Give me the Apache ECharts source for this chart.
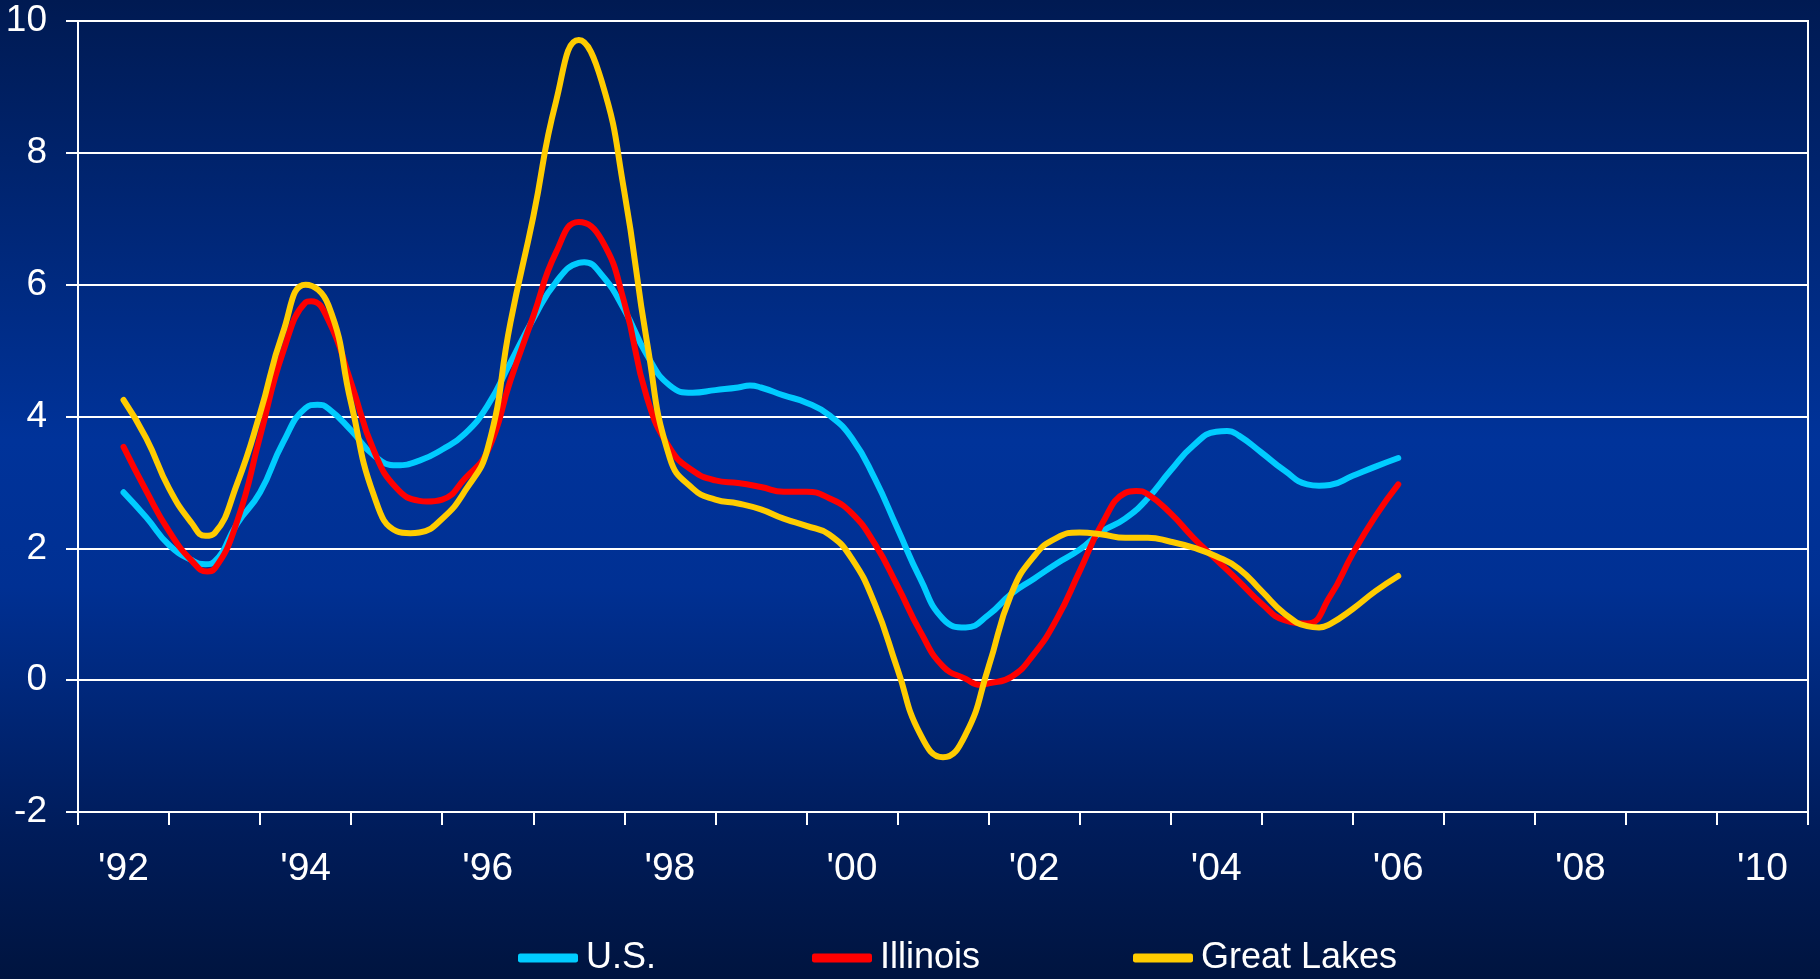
<!DOCTYPE html>
<html>
<head>
<meta charset="utf-8">
<script src="https://cdn.jsdelivr.net/npm/echarts@6.0.0/dist/echarts.min.js"></script>
<style>
  html, body { margin: 0; padding: 0; overflow: hidden; }
  #chart { width: 1820px; height: 979px; }
</style>
</head>
<body>
<div id="chart"></div>
<script>
// category labels, one per year (band), label shown every other year
const yearLabels = ["'92", "'93", "'94", "'95", "'96", "'97", "'98", "'99", "'00",
  "'01", "'02", "'03", "'04", "'05", "'06", "'07", "'08", "'09", "'10"];

// quarterly readings, 1992 Q1 .. 2006 Q1
const firstYear = 1992;
const usValues = [
  2.85, 2.47, 2.05, 1.82, 1.80, 2.38, 2.85, 3.60, 4.13, 4.12, 3.79, 3.41,
  3.26, 3.33, 3.50, 3.74, 4.17, 4.82, 5.48, 6.04, 6.33, 6.15, 5.62, 4.93,
  4.47, 4.36, 4.40, 4.44, 4.44, 4.32, 4.21, 4.02, 3.67, 3.06, 2.30, 1.54,
  0.93, 0.80, 0.99, 1.31, 1.54, 1.77, 1.98, 2.26, 2.45, 2.76, 3.18, 3.56,
  3.77, 3.71, 3.45, 3.18, 2.97, 2.96, 3.10, 3.24, 3.37
];
const illinoisValues = [
  3.54, 2.87, 2.26, 1.81, 1.69, 2.42, 3.70, 4.97, 5.73, 5.46, 4.51, 3.48,
  2.91, 2.72, 2.74, 3.06, 3.48, 4.55, 5.52, 6.49, 6.95, 6.68, 5.73, 4.28,
  3.52, 3.18, 3.03, 2.99, 2.93, 2.86, 2.86, 2.76, 2.53, 2.07, 1.43, 0.74,
  0.21, 0.02, -0.05, 0.05, 0.40, 0.93, 1.65, 2.38, 2.84, 2.82, 2.53, 2.16,
  1.83, 1.50, 1.16, 0.91, 0.86, 1.27, 1.92, 2.49, 2.97
];
const greatLakesValues = [
  4.25, 3.67, 2.91, 2.38, 2.23, 2.99, 4.05, 5.27, 6.00, 5.69, 4.20, 2.80,
  2.26, 2.24, 2.45, 2.87, 3.52, 5.43, 7.03, 8.78, 9.71, 9.09, 7.41, 5.12,
  3.37, 2.91, 2.74, 2.68, 2.59, 2.45, 2.34, 2.21, 1.84, 1.16, 0.17, -0.82,
  -1.17, -0.82, 0.20, 1.31, 1.88, 2.16, 2.24, 2.21, 2.16, 2.16, 2.10, 2.01,
  1.88, 1.69, 1.35, 1.01, 0.82, 0.85, 1.08, 1.35, 1.58
];

// turning points read between quarters: [year, value]
const usTurns = [[1992.9, 1.76], [1994.13, 4.18], [1997.06, 6.34],
  [1998.88, 4.47], [2004.12, 3.78], [2005.13, 2.95]];
const illinoisTurns = [[1992.92, 1.65], [1994.06, 5.75], [1995.33, 2.71],
  [2001.41, -0.07], [2003.12, 2.87]];
const greatLakesTurns = [[1992.9, 2.19], [1995.15, 2.23], [2005.13, 0.80]];

const toPoints = (vals, turns) => vals
  .map((v, i) => [firstYear + i / 4, v])
  .concat(turns)
  .sort((a, b) => a[0] - b[0]);

const chart = echarts.init(document.getElementById("chart"));

const lineSeries = (name, vals, turns, color) => ({
  name: name,
  type: "line",
  xAxisIndex: 1,
  data: toPoints(vals, turns),
  showSymbol: false,
  smooth: 0.5,
  color: color,
  lineStyle: { width: 6, color: color, cap: "round", join: "round" },
});

const legendBase = {
  icon: "roundRect",
  itemWidth: 60,
  itemHeight: 9,
  top: 940,
  padding: 0,
  textStyle: {
    color: "#fff",
    fontSize: 36,
    fontFamily: "'Liberation Sans', Arial, sans-serif",
    padding: [0, 0, 0, 3],
  },
};

const option = {
  backgroundColor: {
    type: "linear", x: 0, y: 0, x2: 0, y2: 1,
    colorStops: [
      { offset: 0, color: "#001a52" },
      { offset: 0.45, color: "#00339a" },
      { offset: 0.6, color: "#003093" },
      { offset: 0.85, color: "#001c5a" },
      { offset: 1, color: "#00143f" },
    ],
  },
  animation: false,
  grid: {
    left: 78, right: 12, top: 21, bottom: 167,
    show: true, borderColor: "#fff", borderWidth: 2,
  },
  legend: [
    Object.assign({}, legendBase, { data: ["U.S."], left: 518 }),
    Object.assign({}, legendBase, { data: ["Illinois"], left: 812 }),
    Object.assign({}, legendBase, { data: ["Great Lakes"], left: 1133 }),
  ],
  xAxis: [
    {
      type: "category",
      data: yearLabels,
      boundaryGap: true,
      axisLine: { show: true, onZero: false, lineStyle: { color: "#fff", width: 2 } },
      axisTick: { show: true, interval: 0, length: 13, lineStyle: { color: "#fff", width: 2 } },
      axisLabel: {
        interval: 1, color: "#fff", fontSize: 39, margin: 38,
        fontFamily: "'Liberation Sans', Arial, sans-serif",
      },
      splitLine: { show: false },
    },
    {
      type: "value",
      min: 1991.5,
      max: 2010.5,
      show: false,
    },
  ],
  yAxis: {
    type: "value",
    min: -2,
    max: 10,
    interval: 2,
    axisLine: { show: true, lineStyle: { color: "#fff", width: 2 } },
    axisTick: { show: true, length: 12, lineStyle: { color: "#fff", width: 2 } },
    splitLine: { lineStyle: { color: "#fff", width: 2 } },
    axisLabel: {
      color: "#fff", fontSize: 37, margin: 31,
      fontFamily: "'Liberation Sans', Arial, sans-serif",
    },
  },
  series: [
    lineSeries("U.S.", usValues, usTurns, "#00ccff"),
    lineSeries("Illinois", illinoisValues, illinoisTurns, "#ff0000"),
    lineSeries("Great Lakes", greatLakesValues, greatLakesTurns, "#ffcc00"),
  ],
};

chart.setOption(option);
</script>
</body>
</html>
